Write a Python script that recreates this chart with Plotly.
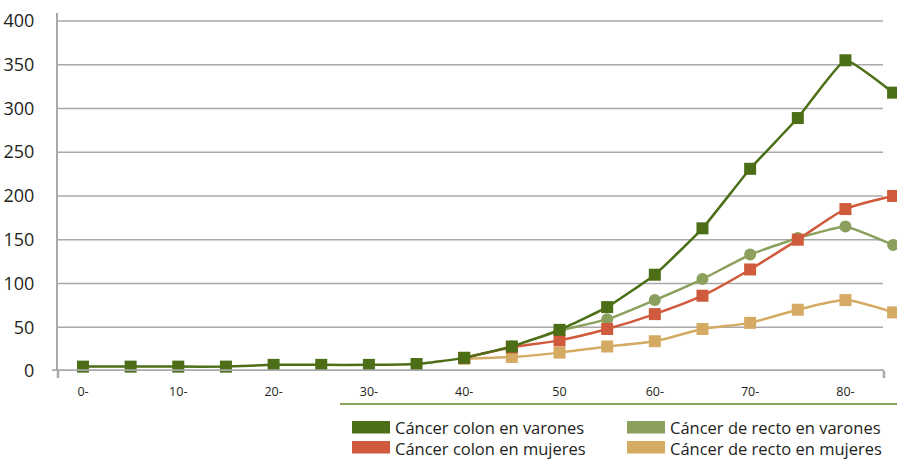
import plotly.graph_objects as go

ages = [0, 5, 10, 15, 20, 25, 30, 35, 40, 45, 50, 55, 60, 65, 70, 75, 80, 85]
tick_vals = [0, 10, 20, 30, 40, 50, 60, 70, 80]
tick_text = ["0-", "10-", "20-", "30-", "40-", "50", "60-", "70-", "80-"]
y_ticks = [0, 50, 100, 150, 200, 250, 300, 350, 400]

colon_varones = [5, 5, 5, 5, 7, 7, 7, 8, 15, 28, 47, 73, 110, 163, 231, 289, 355, 318]
colon_mujeres_ages = [40, 45, 50, 55, 60, 65, 70, 75, 80, 85]
colon_mujeres = [15, 27, 35, 48, 65, 86, 116, 150, 185, 200]
recto_varones_ages = [40, 45, 50, 55, 60, 65, 70, 75, 80, 85]
recto_varones = [15, 28, 46, 59, 81, 105, 133, 152, 165, 144]
recto_mujeres_ages = [40, 45, 50, 55, 60, 65, 70, 75, 80, 85]
recto_mujeres = [14, 16, 21, 28, 34, 48, 55, 70, 81, 67]

names = ["Cáncer colon en varones", "Cáncer colon en mujeres",
         "Cáncer de recto en varones", "Cáncer de recto en mujeres"]
colors = ["#4c6e17", "#d05a3c", "#8ca05e", "#d5ab63"]

fig = go.Figure()

def add(x, y, name, color, symbol, size, smoothing):
    fig.add_trace(go.Scatter(
        x=x, y=y, name=name, mode="lines+markers",
        line=dict(color=color, width=2.5, shape="spline", smoothing=smoothing),
        marker=dict(color=color, symbol=symbol, size=size),
        cliponaxis=False, showlegend=False))

add(recto_mujeres_ages, recto_mujeres, names[3], colors[3], "square", 12, 0.6)
add(recto_varones_ages, recto_varones, names[2], colors[2], "circle", 12, 0.3)
add(colon_mujeres_ages, colon_mujeres, names[1], colors[1], "square", 12, 0.7)
add(ages, colon_varones, names[0], colors[0], "square", 12, 0.35)

font_family = "Open Sans, Noto Sans, sans-serif"

L, R, T, B = 58, 2, 13, 88
W, H = 897 - L - R, 459 - T - B

def px_x(px):
    return (px - L) / W

def px_y(py):
    return (459 - B - py) / H

fig.update_layout(
    width=897, height=459,
    margin=dict(l=L, r=R, t=T, b=B),
    paper_bgcolor="white", plot_bgcolor="white",
    font=dict(family=font_family, color="#231f20"),
    xaxis=dict(range=[-2.62, 85.2], tickmode="array", tickvals=tick_vals, ticktext=tick_text,
               showgrid=False, zeroline=False, showline=False, automargin=False,
               tickfont=dict(size=12.5), ticks="", ticklabelstandoff=11),
    yaxis=dict(range=[0, 409], tickmode="array", tickvals=y_ticks,
               showgrid=False, zeroline=False,
               showline=True, linecolor="#a9a9a9", linewidth=2, automargin=False,
               tickfont=dict(size=18), ticks="", ticklabelstandoff=18),
)

# horizontal gridlines ending at x=883 px
for v in y_ticks[1:]:
    fig.add_shape(type="line", xref="paper", yref="y", x0=0, x1=px_x(883), y0=v, y1=v,
                  line=dict(color="#a9a9a9", width=1.5), layer="below")

# x-axis baseline (thick grey) with end tick marks
fig.add_shape(type="line", xref="paper", yref="y", x0=px_x(52), x1=px_x(884), y0=0, y1=0,
              line=dict(color="#a9a9a9", width=3.5), layer="above")
fig.add_shape(type="line", xref="paper", yref="paper", x0=0, x1=0, y0=0, y1=px_y(378),
              line=dict(color="#a9a9a9", width=2.5))
fig.add_shape(type="line", xref="paper", yref="paper", x0=px_x(884), x1=px_x(884), y0=0, y1=px_y(378),
              line=dict(color="#a9a9a9", width=2.5))

# separator line above legend
fig.add_shape(type="line", xref="paper", yref="paper", x0=px_x(340), x1=px_x(897),
              y0=px_y(404), y1=px_y(404), line=dict(color="#8ca05e", width=2))

# custom legend: two columns, two rows each
legend_cols = [(352, [0, 1]), (627, [2, 3])]
row_tops = [421, 441]
for lx, idxs in legend_cols:
    for idx, ly in zip(idxs, row_tops):
        fig.add_shape(type="rect", xref="paper", yref="paper",
                      x0=px_x(lx), x1=px_x(lx + 38), y0=px_y(ly), y1=px_y(ly + 12.5),
                      fillcolor=colors[idx], line=dict(width=0))
    fig.add_annotation(xref="paper", yref="paper", x=px_x(lx + 42), y=px_y(438),
                       text="<br>".join(names[i] for i in idxs), showarrow=False,
                       xanchor="left", yanchor="middle", align="left", borderpad=0,
                       font=dict(size=16.5, family=font_family, color="#231f20"))

fig.write_html("out.html", config={"displayModeBar": False},
               post_script="document.body.style.margin='0';document.body.style.overflow='hidden';")
